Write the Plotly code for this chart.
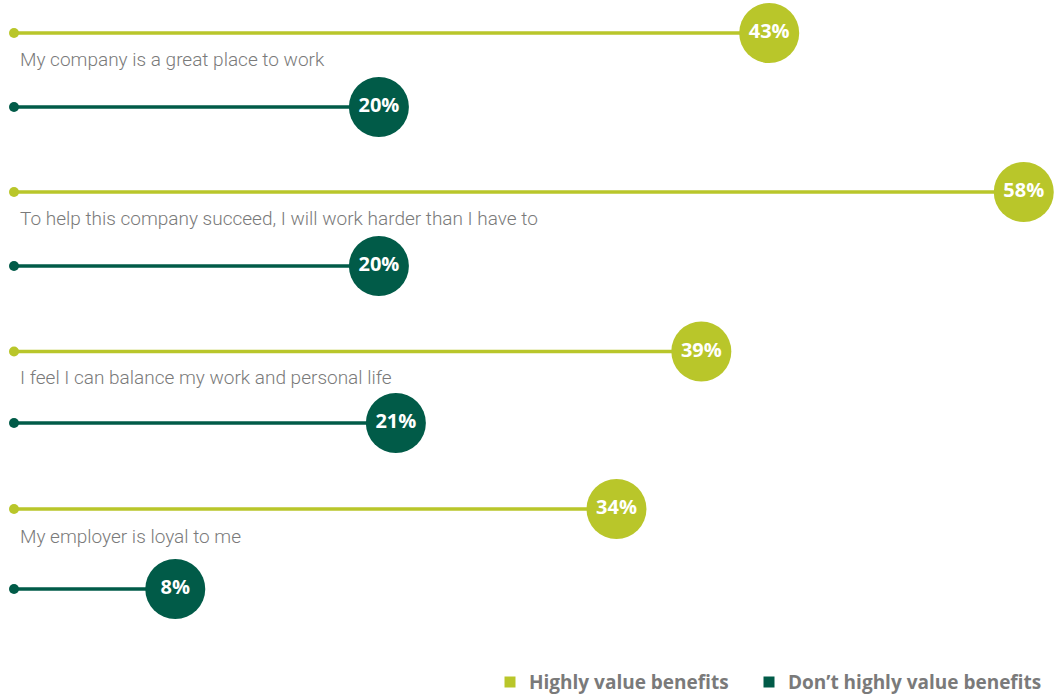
import plotly.graph_objects as go

# Survey statements and shares of respondents who agree
statements = [
    "My company is a great place to work",
    "To help this company succeed, I will work harder than I have to",
    "I feel I can balance my work and personal life",
    "My employer is loyal to me",
]
highly_value = [43, 58, 39, 34]
not_highly_value = [20, 20, 21, 8]
series_names = ["Highly value benefits", "Don\u2019t highly value benefits"]

# Styling / layout constants
W, H = 1054, 694
LIGHT = "#B9C62A"
DARK = "#015B48"
GREY = "#7A7A7A"
PX_PER_UNIT = 16.97
ZERO_PX = 39.5
LINE_START = (14 - ZERO_PX) / PX_PER_UNIT
x_range = [-ZERO_PX / PX_PER_UNIT, (W - ZERO_PX) / PX_PER_UNIT]

# vertical placement of each row (pixel units on a reversed y axis)
light_y = [33, 192, 351.5, 509]
label_y = [59, 218, 377, 536]
dark_y = [107, 266, 423, 589]

# key placement (pixels): square centre x, text start x, shared centre y
key_square_x = [510, 769]
key_text_x = [527, 786]
KEY_Y = 682
KEY_SQ = 11

fig = go.Figure()


def add_series(values, ys, color, name):
    lx, ly = [], []
    for v, y in zip(values, ys):
        lx += [LINE_START, v, None]
        ly += [y, y, None]
    fig.add_trace(go.Scatter(x=lx, y=ly, mode="lines",
                             line=dict(color=color, width=3.5),
                             showlegend=False, hoverinfo="skip"))
    fig.add_trace(go.Scatter(x=[LINE_START] * len(ys), y=ys, mode="markers",
                             marker=dict(color=color, size=10),
                             showlegend=False, hoverinfo="skip"))
    fig.add_trace(go.Scatter(x=values, y=ys, mode="markers+text",
                             marker=dict(color=color, size=60),
                             text=[f"{v}%" for v in values],
                             textposition="middle center",
                             textfont=dict(family="Open Sans", size=20,
                                           color="white", weight="bold"),
                             name=name, showlegend=False, cliponaxis=False))


add_series(highly_value, light_y, LIGHT, series_names[0])
add_series(not_highly_value, dark_y, DARK, series_names[1])

for text, y in zip(statements, label_y):
    fig.add_annotation(x=18 / W, xref="paper", y=y, yref="y", text=text,
                       showarrow=False, xanchor="left", yanchor="middle",
                       font=dict(family="Roboto", size=19,
                                 color=GREY, weight=300))

# colour key along the bottom edge
for name, color, sx, tx in zip(series_names, [LIGHT, DARK], key_square_x, key_text_x):
    fig.add_shape(type="rect", xref="paper", yref="paper",
                  x0=(sx - KEY_SQ / 2) / W, x1=(sx + KEY_SQ / 2) / W,
                  y0=1 - (KEY_Y + KEY_SQ / 2) / H, y1=1 - (KEY_Y - KEY_SQ / 2) / H,
                  fillcolor=color, line_width=0)
    fig.add_annotation(x=tx / W, xref="paper", y=1 - KEY_Y / H, yref="paper",
                       text=name, showarrow=False, xanchor="left", yanchor="middle",
                       font=dict(family="Open Sans", size=19, color=GREY,
                                 weight="bold"))

fig.update_layout(
    width=W, height=H,
    margin=dict(l=0, r=0, t=0, b=0),
    paper_bgcolor="white", plot_bgcolor="white",
    xaxis=dict(range=x_range, visible=False, fixedrange=True),
    yaxis=dict(range=[H, 0], visible=False, fixedrange=True),
    showlegend=False,
)

fig.write_html("out.html", config={"displayModeBar": False})
